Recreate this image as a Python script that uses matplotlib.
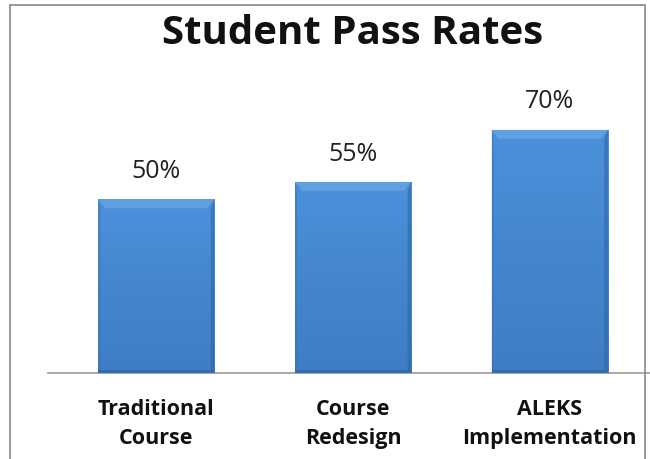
import matplotlib
matplotlib.use("Agg")
import matplotlib.pyplot as plt
import numpy as np
from matplotlib.patches import Rectangle, Polygon
from matplotlib.colors import LinearSegmentedColormap

categories = ["Traditional\nCourse", "Course\nRedesign", "ALEKS\nImplementation"]
pass_rates = [50, 55, 70]
value_labels = ["50%", "55%", "70%"]
title = "Student Pass Rates"

W, H = 650, 459
fig = plt.figure(figsize=(W / 100, H / 100), dpi=100)
fig.patch.set_facecolor("white")

ax = fig.add_axes([48 / W, (H - 373) / H, 610 / W, 278 / H])
ax.set_xlim(-0.55, 2.55)
ax.set_ylim(0, 80)
x = np.arange(len(categories))
bars = ax.bar(x, pass_rates, width=0.59, color="#4689d2", edgecolor="none", zorder=2)

# gradient + bevel shading derived from bar patches
cmap = LinearSegmentedColormap.from_list("g", ["#3e7dc3", "#4b91da"])
grad = np.linspace(0, 1, 256).reshape(-1, 1)
for b in bars:
    x0, y0, w, h = b.get_x(), b.get_y(), b.get_width(), b.get_height()
    im = ax.imshow(grad, extent=(x0, x0 + w, y0, y0 + h), origin="lower",
                   cmap=cmap, aspect="auto", zorder=3)
    im.set_clip_path(b)
    bw = w * 0.06
    bh = 2.6
    # top bevel (lighter)
    ax.add_patch(Polygon([(x0, y0 + h), (x0 + w, y0 + h), (x0 + w - bw, y0 + h - bh),
                          (x0 + bw, y0 + h - bh)], closed=True, facecolor="#7db3ea",
                         edgecolor="none", alpha=0.45, zorder=4))
    # right bevel (darker)
    ax.add_patch(Polygon([(x0 + w, y0 + h), (x0 + w, y0), (x0 + w - bw * 0.5, y0 + 1.0),
                          (x0 + w - bw * 0.5, y0 + h - bh)], closed=True,
                         facecolor="#2d62a3", edgecolor="none", alpha=0.55, zorder=4))
    # left bevel (slightly darker)
    ax.add_patch(Polygon([(x0, y0 + h), (x0, y0), (x0 + bw * 0.3, y0 + 1.0),
                          (x0 + bw * 0.3, y0 + h - bh)], closed=True,
                         facecolor="#3a72b6", edgecolor="none", alpha=0.5, zorder=4))
    # bottom bevel
    ax.add_patch(Rectangle((x0, y0), w, 0.8, facecolor="#2d62a3",
                           edgecolor="none", alpha=0.6, zorder=4))

for xi, v, lab in zip(x, pass_rates, value_labels):
    ax.annotate(lab, (xi, v), xytext=(0, 20), textcoords="offset points",
                ha="center", va="center", fontsize=18, family="Open Sans",
                color="#222222")

ax.set_xticks(x)
ax.set_xticklabels(categories, fontsize=15.5, fontweight="bold", family="Open Sans",
                   linespacing=1.45, color="#111111")
ax.tick_params(axis="x", length=0, pad=19)
ax.set_yticks([])
for s in ["top", "right", "left"]:
    ax.spines[s].set_visible(False)
ax.spines["bottom"].set_color("#999999")
ax.spines["bottom"].set_linewidth(1.2)
ax.set_facecolor("none")

fig.text(353 / W, 1 - 33 / H, title, ha="center", va="center", fontsize=29,
         fontweight="bold", family="Open Sans", color="#111111")

# outer frame
fig.add_artist(Rectangle((10 / W, -0.01), 635 / W, 1 - 5 / H + 0.01, transform=fig.transFigure,
                         fill=False, edgecolor="#7e8c8c", linewidth=1.2))

fig.savefig("out.png", dpi=100, facecolor="white")
